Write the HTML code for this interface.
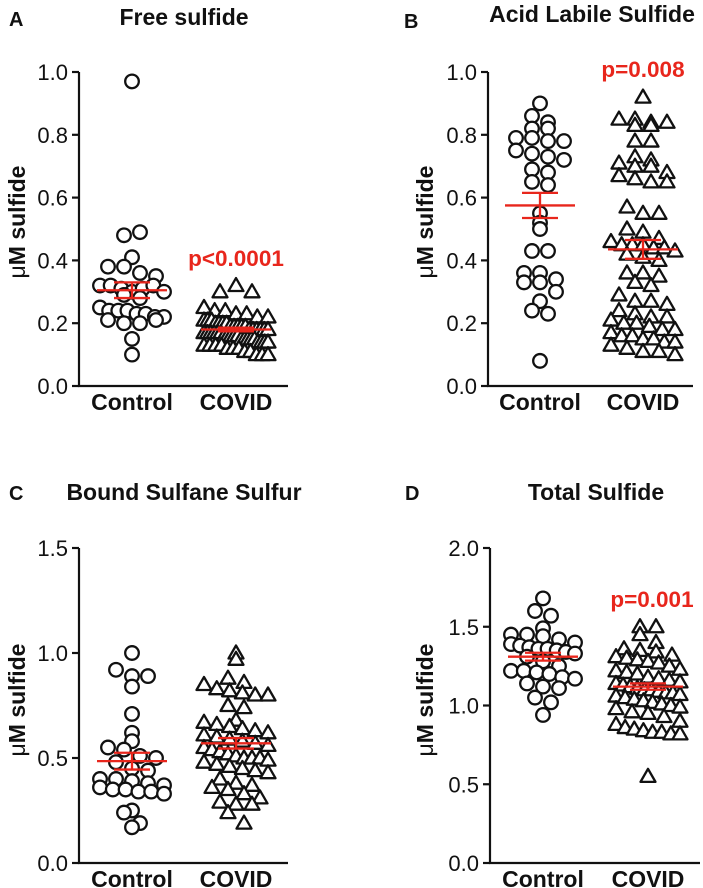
<!DOCTYPE html>
<html><head><meta charset="utf-8"><style>
html,body{margin:0;padding:0;background:#fff;}
svg{display:block;font-family:"Liberation Sans",Arial,sans-serif;}
</style></head><body>
<svg id="fig" width="703" height="888" viewBox="0 0 703 888" xmlns="http://www.w3.org/2000/svg"></svg>
<script>
// ---- data ----
const categories = ["Control", "COVID"];
const aControl = [0.97,0.48,0.49,0.41,0.38,0.38,0.36,0.35,0.32,0.32,0.31,0.30,0.31,0.32,0.30,0.29,0.28,0.25,0.24,0.24,0.24,0.23,0.23,0.22,0.22,0.21,0.20,0.20,0.21,0.15,0.10];
const aCovid = [0.30,0.32,0.30,0.25,0.24,0.24,0.23,0.23,0.22,0.22,0.21,0.21,0.21,0.20,0.20,0.20,0.20,0.19,0.19,0.19,0.19,0.19,0.18,0.18,0.18,0.18,0.18,0.18,0.17,0.17,0.17,0.17,0.17,0.17,0.16,0.16,0.16,0.16,0.16,0.15,0.15,0.15,0.15,0.15,0.14,0.14,0.14,0.14,0.13,0.13,0.13,0.13,0.12,0.12,0.12,0.11,0.11,0.10,0.10,0.10];
const bControl = [0.90,0.86,0.84,0.82,0.82,0.79,0.79,0.78,0.78,0.75,0.74,0.73,0.72,0.69,0.68,0.65,0.64,0.55,0.52,0.50,0.43,0.43,0.36,0.36,0.34,0.33,0.33,0.30,0.27,0.24,0.23,0.08];
const bCovid = [0.92,0.85,0.85,0.84,0.84,0.83,0.83,0.78,0.78,0.73,0.72,0.71,0.70,0.70,0.68,0.67,0.66,0.65,0.65,0.57,0.55,0.55,0.50,0.49,0.47,0.46,0.45,0.45,0.45,0.44,0.44,0.43,0.42,0.41,0.40,0.36,0.36,0.35,0.33,0.32,0.29,0.27,0.27,0.26,0.24,0.23,0.22,0.22,0.21,0.20,0.20,0.19,0.18,0.18,0.17,0.16,0.16,0.15,0.15,0.14,0.14,0.13,0.12,0.11,0.11,0.10];
const cControl = [1.00,0.92,0.89,0.89,0.84,0.71,0.62,0.58,0.55,0.54,0.51,0.50,0.48,0.45,0.44,0.40,0.40,0.39,0.38,0.37,0.36,0.35,0.35,0.34,0.34,0.33,0.25,0.24,0.19,0.17];
const cCovid = [1.00,0.97,0.88,0.86,0.85,0.83,0.82,0.81,0.80,0.80,0.75,0.74,0.68,0.67,0.66,0.65,0.64,0.63,0.62,0.61,0.60,0.59,0.58,0.57,0.56,0.55,0.54,0.53,0.52,0.51,0.50,0.50,0.50,0.49,0.48,0.47,0.46,0.45,0.44,0.43,0.40,0.38,0.37,0.36,0.35,0.33,0.31,0.29,0.28,0.28,0.24,0.19];
const dControl = [1.68,1.60,1.57,1.49,1.45,1.45,1.44,1.42,1.40,1.39,1.38,1.37,1.36,1.36,1.35,1.34,1.33,1.31,1.28,1.25,1.22,1.22,1.21,1.20,1.18,1.17,1.14,1.12,1.11,1.05,1.02,0.94];
const dCovid = [1.50,1.50,1.45,1.40,1.36,1.35,1.34,1.32,1.31,1.30,1.29,1.28,1.27,1.25,1.23,1.22,1.21,1.20,1.18,1.17,1.16,1.15,1.14,1.13,1.12,1.11,1.10,1.10,1.09,1.08,1.08,1.07,1.06,1.05,1.04,1.03,1.02,1.01,1.00,0.99,0.98,0.96,0.95,0.93,0.90,0.88,0.86,0.85,0.84,0.83,0.83,0.82,0.82,0.55];
const meansA = [0.305,0.18], semA = [0.025,0.006];
const meansB = [0.575,0.435], semB = [0.04,0.03];
const meansC = [0.485,0.57], semC = [0.04,0.025];
const meansD = [1.31,1.12], semD = [0.025,0.02];
const ticksA = [0,0.2,0.4,0.6,0.8,1.0];
const ticksC = [0,0.5,1.0,1.5];
const ticksD = [0,0.5,1.0,1.5,2.0];

const NS = "http://www.w3.org/2000/svg";
const svg = document.getElementById('fig');
function mk(tag, attrs, parent){const e=document.createElementNS(NS,tag);for(const k in attrs)e.setAttribute(k,attrs[k]);(parent||svg).appendChild(e);return e;}

// GraphPad-like row layout: group points into y rows, spread each row horizontally
function swarm(vals, y, W){
  const rowH=13, sp=16;
  const rows={};
  vals.forEach((v,i)=>{const r=Math.round(y(v)/rowH);(rows[r]=rows[r]||[]).push(i);});
  const out=new Array(vals.length);
  for(const r in rows){
    const idx=rows[r]; const n=idx.length;
    const step=n>1?Math.min(sp,2*W/(n-1)):0;
    idx.forEach((id,k)=>{out[id]=(k-(n-1)/2)*step;});
  }
  return out;
}

function panel(cfg){
  const g=mk('g',{});
  
  
  const {ax,top,bot,right,ymax,ticks,cx}=cfg;
  const y=v=>bot-(v/ymax)*(bot-top);
  let t=mk('text',{x:cfg.lx,y:cfg.ly,'font-size':20,'font-weight':'bold',fill:'#111'},g);t.textContent=cfg.letter;
  
  t=mk('text',{x:cfg.tx,y:cfg.ty,'font-size':23,'font-weight':'bold','text-anchor':'middle',fill:'#111'},g);t.textContent=cfg.title;
  
  let a=mk('path',{d:`M${ax},${top}V${bot}H${right}`,stroke:'#111','stroke-width':2.2,fill:'none'},g);
  
  for(const tv of ticks){
    const ty=y(tv);
    const tk=mk('line',{x1:ax-7,x2:ax,y1:ty,y2:ty,stroke:'#111','stroke-width':2.2},g);
    
    const tl=mk('text',{x:ax-11,y:ty+8,'font-size':22,'text-anchor':'end',fill:'#111'},g);
    tl.textContent=tv.toFixed(1);
    
  }
  const yt=mk('text',{transform:`translate(${cfg.ytx},${cfg.yty}) rotate(-90)`,'font-size':23,'font-weight':'bold','text-anchor':'middle',fill:'#111'},g);
  yt.innerHTML='<tspan font-weight="normal">μ</tspan>M sulfide';
  
  categories.forEach((c,i)=>{
    const cl=mk('text',{x:cx[i],y:bot+24,'font-size':23,'font-weight':'bold','text-anchor':'middle',fill:'#111'},g);
    cl.textContent=c;
    
  });
  cfg.series.forEach((vals,i)=>{
    const offs=swarm(vals,y,32);
    vals.forEach((v,j)=>{
      const px=cx[i]+offs[j], py=y(v);
      let m;
      if(i===0){m=mk('circle',{cx:px,cy:py,r:6.8,fill:'#fff',stroke:'#111','stroke-width':2.3},g);}
      else{m=mk('path',{d:`M${px},${py-7.5}L${px+7.5},${py+5.5}L${px-7.5},${py+5.5}Z`,fill:'#fff',stroke:'#111','stroke-width':2.3,'stroke-linejoin':'round'},g);}
      
      
    });
  });
  cfg.means.forEach((mv,i)=>{
    const my=y(mv), s=cfg.sems[i];
    const gm=mk('g',{stroke:'#e8261c','stroke-width':2.3},g);
    
    mk('line',{x1:cx[i]-35,x2:cx[i]+35,y1:my,y2:my},gm);
    mk('line',{x1:cx[i],x2:cx[i],y1:y(mv+s),y2:y(mv-s)},gm);
    mk('line',{x1:cx[i]-18,x2:cx[i]+18,y1:y(mv+s),y2:y(mv+s)},gm);
    mk('line',{x1:cx[i]-18,x2:cx[i]+18,y1:y(mv-s),y2:y(mv-s)},gm);
  });
  if(cfg.p){
    const p=mk('text',{x:cfg.p[1],y:cfg.p[2],'font-size':22.5,'font-weight':'bold','text-anchor':'middle',fill:'#e8261c'},g);
    p.textContent=cfg.p[0];
    
  }
}

panel({name:'panel-a-free-sulfide',letter:'A',lx:9,ly:26,title:'Free sulfide',tx:184,ty:25,ax:79,top:72,bot:386,right:288,ymax:1.0,ticks:ticksA,cx:[132,236],ytx:25,yty:222,series:[aControl,aCovid],means:meansA,sems:semA,p:['p<0.0001',236,266]});
panel({name:'panel-b-acid-labile-sulfide',letter:'B',lx:404,ly:28,title:'Acid Labile Sulfide',tx:592,ty:22,ax:488,top:72,bot:386,right:693,ymax:1.0,ticks:ticksA,cx:[540,643],ytx:433,yty:222,series:[bControl,bCovid],means:meansB,sems:semB,p:['p=0.008',643,77]});
panel({name:'panel-c-bound-sulfane-sulfur',letter:'C',lx:9,ly:500,title:'Bound Sulfane Sulfur',tx:184,ty:500,ax:79,top:548,bot:863,right:288,ymax:1.5,ticks:ticksC,cx:[132,236],ytx:25,yty:700,series:[cControl,cCovid],means:meansC,sems:semC});
panel({name:'panel-d-total-sulfide',letter:'D',lx:405,ly:500,title:'Total Sulfide',tx:596,ty:500,ax:490,top:548,bot:863,right:700,ymax:2.0,ticks:ticksD,cx:[543,648],ytx:433,yty:700,series:[dControl,dCovid],means:meansD,sems:semD,p:['p=0.001',652,607]});
</script>
</body></html>
